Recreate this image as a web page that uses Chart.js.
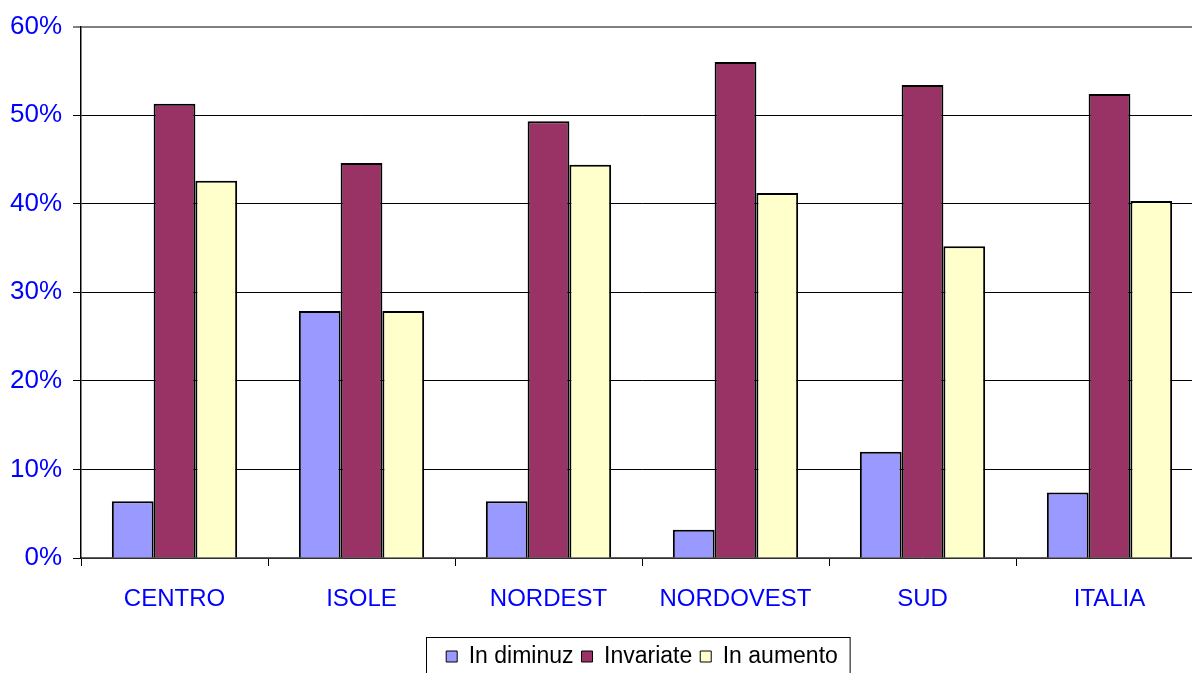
<!DOCTYPE html>
<html>
<head>
<meta charset="utf-8">
<script src="https://cdn.jsdelivr.net/npm/chart.js@4/dist/chart.umd.min.js"></script>
<style>
  body { margin: 0; background: #fff; overflow: hidden; }
  #wrap { width: 1192px; height: 673px; overflow: hidden; }
</style>
</head>
<body>
<div id="wrap"><canvas id="chart" width="1203" height="678"></canvas></div>
<script>
// categorie e valori (%)
const regions = ["CENTRO", "ISOLE", "NORDEST", "NORDOVEST", "SUD", "ITALIA"];
const inDiminuz = [6.4, 27.9, 6.4, 3.2, 12.0, 7.4];
const invariate = [51.3, 44.6, 49.3, 56.0, 53.4, 52.4];
const inAumento = [42.6, 27.9, 44.4, 41.2, 35.2, 40.3];
const yTicks = [0, 10, 20, 30, 40, 50, 60];

// bordo attorno alla legenda
const legendBorder = {
  id: "legendBorder",
  afterDraw(chart) {
    const boxes = chart.legend.legendHitBoxes;
    if (!boxes || !boxes.length) return;
    const ctx = chart.ctx;
    const left = Math.min(...boxes.map(b => b.left)) - 20;
    const right = Math.max(...boxes.map(b => b.left + b.width)) + 12;
    const top = Math.min(...boxes.map(b => b.top)) - 8;
    const bottom = Math.max(...boxes.map(b => b.top + b.height)) + 8;
    ctx.save();
    ctx.strokeStyle = "#000";
    ctx.lineWidth = 1;
    ctx.strokeRect(Math.round(left) + 0.5, Math.round(top) + 0.5, right - left, bottom - top);
    ctx.restore();
  }
};

const ctx = document.getElementById("chart").getContext("2d");
new Chart(ctx, {
  type: "bar",
  data: {
    labels: regions,
    datasets: [
      { label: "In diminuz", data: inDiminuz, backgroundColor: "#9999FF" },
      { label: "Invariate", data: invariate, backgroundColor: "#993366" },
      { label: "In aumento", data: inAumento, backgroundColor: "#FFFFCC" }
    ].map(d => Object.assign(d, { borderColor: "#000", borderWidth: 2, barPercentage: 1, categoryPercentage: 0.67 }))
  },
  options: {
    responsive: false,
    animation: false,
    layout: { padding: { top: 25, left: 0, right: 0, bottom: 0 } },
    plugins: {
      tooltip: { enabled: false },
      legend: {
        position: "bottom",
        fullSize: false,
        labels: {
          color: "#000",
          font: { family: "Liberation Sans", size: 23 },
          boxWidth: 11,
          boxHeight: 11,
          padding: 8,
          generateLabels(chart) {
            return chart.data.datasets.map((d, i) => ({
              text: d.label, fillStyle: d.backgroundColor, strokeStyle: "#000",
              lineWidth: 1, datasetIndex: i, hidden: false
            }));
          }
        }
      }
    },
    scales: {
      x: {
        grid: { offset: true, drawOnChartArea: false, tickLength: 8, color: "#000" },
        border: { color: "#606060", width: 1.5 },
        ticks: { color: "#0000FF", font: { family: "Liberation Sans", size: 24 }, padding: 19 },
        afterFit(scale) { scale.height = 79; }
      },
      y: {
        min: 0,
        max: 60,
        afterBuildTicks(scale) { scale.ticks = yTicks.map(v => ({ value: v })); },
        grid: {
          color: c => c.tick && c.tick.value === 60 ? "#808080" : "#000",
          lineWidth: c => c.tick && c.tick.value === 60 ? 2 : 1,
          tickLength: 8
        },
        border: { color: "#000", width: 1.5 },
        ticks: {
          color: "#0000FF",
          font: { family: "Liberation Sans", size: 26 },
          padding: 11,
          callback: v => v + "%"
        },
        afterFit(scale) { scale.width = 81; }
      }
    }
  },
  plugins: [legendBorder]
});
</script>
</body>
</html>
